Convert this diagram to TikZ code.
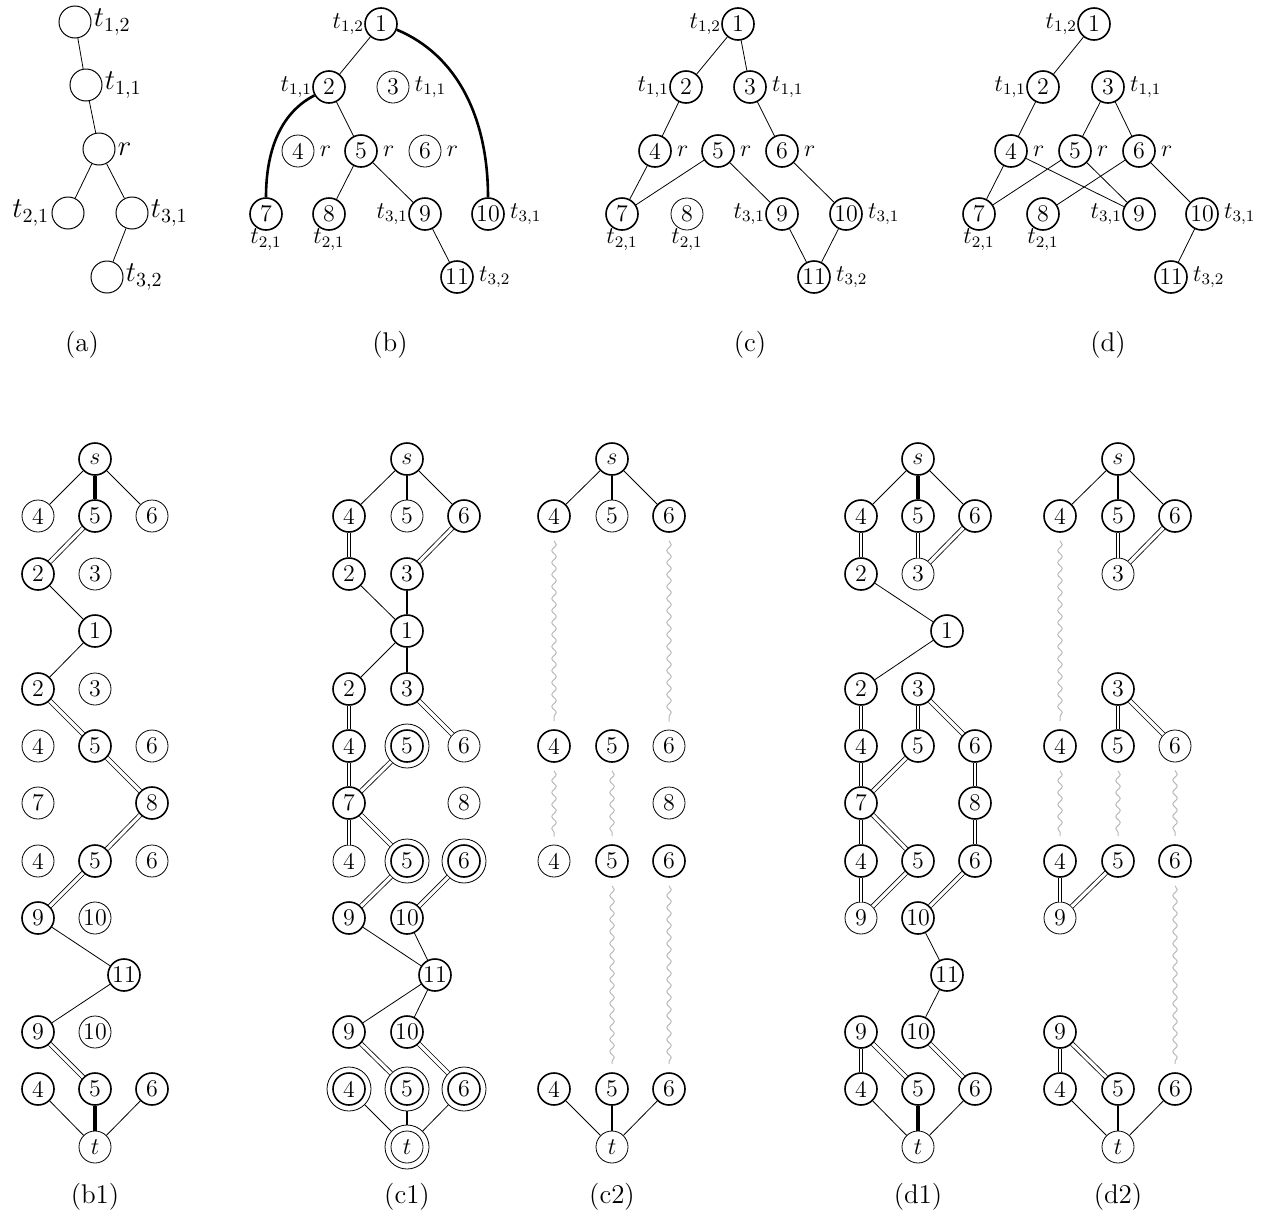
\documentclass[tikz,border=0pt]{standalone}
\usetikzlibrary{decorations.pathmorphing}
\begin{document}
\begin{tikzpicture}[x=0.5pt,y=-0.5pt,
  v/.style={circle,draw,minimum size=16pt,inner sep=0pt,line width=0.4pt,font=\fontsize{12}{14}\selectfont},
  b/.style={v,line width=0.8pt},
  dv/.style={v,minimum size=22pt,path picture={\draw[line width=0.8pt] (path picture bounding box.center) circle (8pt);}},
  dvt/.style={v,minimum size=22pt,path picture={\draw[line width=0.4pt] (path picture bounding box.center) circle (8pt);}},
  av/.style={circle,draw,minimum size=16pt,inner sep=0pt,line width=0.5pt},
  e/.style={line width=0.4pt},
  T/.style={line width=1.6pt},
  tk/.style={line width=1pt},
  cv/.style={line width=1.3pt},
  dd/.style={double,line width=0.4pt,double distance=1.6pt},
  vd/.style={double,line width=0.7pt,double distance=1pt},
  w/.style={decorate,decoration={snake,amplitude=1.1pt,segment length=6pt},draw=gray!55,line width=0.5pt},
  lr/.style={label={[font=\large,inner sep=2.5pt]right:$#1$}},
  ll/.style={label={[font=\large,inner sep=0pt]left:$#1$}},
  lb/.style={label={[font=\large,inner sep=0pt,label distance=-1pt]below:$#1$}},
  alr/.style={label={[font=\Large,inner sep=1pt]right:$#1$}},
  all/.style={label={[font=\Large,inner sep=1pt]left:$#1$}},
  capt/.style={font=\fontsize{13.5}{16}\selectfont}]
\useasboundingbox (0,0) rectangle (1268,1221);

% ---------- (a)
\node[av,alr={t_{1,2}}] (a12) at (75,22) {};
\node[av,alr={t_{1,1}}] (a11) at (86,85) {};
\node[av,alr={r}] (ar) at (99,149) {};
\node[av,all={t_{2,1}}] (a21) at (68,213) {};
\node[av,alr={t_{3,1}}] (a31) at (132,213) {};
\node[av,alr={t_{3,2}}] (a32) at (107,277) {};
\draw[e] (a12)--(a11) (a11)--(ar) (ar)--(a21) (ar)--(a31) (a31)--(a32);
\node[capt] (capa) at (82,345) {(a)};

% ---------- (b)
\node[b,ll={t_{1,2}}] (b1) at (381,24) {1};
\node[b,ll={t_{1,1}}] (b2) at (329,87) {2};
\node[v,lr={t_{1,1}}] (b3) at (393,87) {3};
\node[v,lr={r}] (b4) at (298,151) {4};
\node[b,lr={r}] (b5) at (361,151) {5};
\node[v,lr={r}] (b6) at (425,151) {6};
\node[b,lb={t_{2,1}}] (b7) at (266,214) {7};
\node[b,lb={t_{2,1}}] (b8) at (329,214) {8};
\node[b,ll={t_{3,1}}] (b9) at (425,214) {9};
\node[b,lr={t_{3,1}}] (b10) at (488,214) {10};
\node[b,lr={t_{3,2}}] (b11) at (457,277) {11};
\draw[e] (b1)--(b2) (b2)--(b5) (b5)--(b8) (b5)--(b9) (b9)--(b11);
\draw[cv] (b2.210) .. controls +(-35,18) and +(0,-45) .. (b7.north);
\draw[cv] (b1.-20) .. controls +(60,25) and +(0,-80) .. (b10.north);
\node[capt] (capb) at (390,345) {(b)};

% ---------- (c)
\node[b,ll={t_{1,2}}] (c1) at (738,24) {1};
\node[b,ll={t_{1,1}}] (c2) at (686,87) {2};
\node[b,lr={t_{1,1}}] (c3) at (750,87) {3};
\node[b,lr={r}] (c4) at (655,151) {4};
\node[b,lr={r}] (c5) at (718,151) {5};
\node[b,lr={r}] (c6) at (782,151) {6};
\node[b,lb={t_{2,1}}] (c7) at (622,214) {7};
\node[v,lb={t_{2,1}}] (c8) at (687,214) {8};
\node[b,ll={t_{3,1}}] (c9) at (782,214) {9};
\node[b,lr={t_{3,1}}] (c10) at (846,214) {10};
\node[b,lr={t_{3,2}}] (c11) at (814,277) {11};
\draw[e] (c1)--(c2) (c1)--(c3) (c2)--(c4) (c3)--(c6) (c4)--(c7) (c5)--(c7)
  (c5)--(c9) (c6)--(c10) (c9)--(c11) (c10)--(c11);
\node[capt] (capc) at (750,345) {(c)};

% ---------- (d)
\node[b,ll={t_{1,2}}] (d1) at (1094,24) {1};
\node[b,ll={t_{1,1}}] (d2) at (1043,87) {2};
\node[b,lr={t_{1,1}}] (d3) at (1108,87) {3};
\node[b,lr={r}] (d4) at (1011,151) {4};
\node[b,lr={r}] (d5) at (1075,151) {5};
\node[b,lr={r}] (d6) at (1139,151) {6};
\node[b,lb={t_{2,1}}] (d7) at (979,214) {7};
\node[b,lb={t_{2,1}}] (d8) at (1043,214) {8};
\node[b,ll={t_{3,1}}] (d9) at (1139,214) {9};
\node[b,lr={t_{3,1}}] (d10) at (1202,214) {10};
\node[b,lr={t_{3,2}}] (d11) at (1171,277) {11};
\draw[e] (d1)--(d2) (d2)--(d4) (d3)--(d5) (d3)--(d6) (d4)--(d7) (d4)--(d9)
  (d5)--(d7) (d5)--(d9) (d6)--(d8) (d6)--(d10) (d10)--(d11);
\node[capt] (capd) at (1108,345) {(d)};

% ---------- (b1)
\node[b] (Bs) at (95,459) {$s$};
\node[v] (Ba4) at (38,516) {4}; \node[b] (Ba5) at (95,516) {5}; \node[v] (Ba6) at (152,516) {6};
\node[b] (Bb2) at (38,574) {2}; \node[v] (Bb3) at (95,574) {3};
\node[b] (Bc1) at (95,631) {1};
\node[b] (Bd2) at (38,689) {2}; \node[v] (Bd3) at (95,689) {3};
\node[v] (Be4) at (38,746) {4}; \node[b] (Be5) at (95,746) {5}; \node[v] (Be6) at (152,746) {6};
\node[v] (Bf7) at (38,803) {7}; \node[b] (Bf8) at (152,803) {8};
\node[v] (Bg4) at (38,861) {4}; \node[b] (Bg5) at (95,861) {5}; \node[v] (Bg6) at (152,861) {6};
\node[b] (Bh9) at (38,918) {9}; \node[v] (Bh10) at (95,918) {10};
\node[b] (Bi11) at (124,975) {11};
\node[b] (Bj9) at (38,1032) {9}; \node[v] (Bj10) at (95,1032) {10};
\node[b] (Bk4) at (38,1089) {4}; \node[b] (Bk5) at (95,1089) {5}; \node[b] (Bk6) at (152,1089) {6};
\node[v] (Bt) at (95,1147) {$t$};
\draw[e] (Bs)--(Ba4) (Bs)--(Ba6) (Bb2)--(Bc1) (Bc1)--(Bd2) (Bh9)--(Bi11) (Bi11)--(Bj9) (Bk4)--(Bt) (Bk6)--(Bt);
\draw[T] (Bs)--(Ba5) (Bk5)--(Bt);
\draw[dd] (Ba5)--(Bb2);
\draw[dd] (Bd2)--(Be5);
\draw[dd] (Be5)--(Bf8);
\draw[dd] (Bf8)--(Bg5);
\draw[dd] (Bg5)--(Bh9);
\draw[dd] (Bj9)--(Bk5);
\node[capt] (capb1) at (95,1197) {(b1)};

% ---------- (c1)
\node[b] (Cs) at (407,459) {$s$};
\node[b] (Ca4) at (349,516) {4}; \node[v] (Ca5) at (407,516) {5}; \node[b] (Ca6) at (464,516) {6};
\node[b] (Cb2) at (349,574) {2}; \node[b] (Cb3) at (407,574) {3};
\node[b] (Cc1) at (407,631) {1};
\node[b] (Cd2) at (349,689) {2}; \node[b] (Cd3) at (407,689) {3};
\node[b] (Ce4) at (349,746) {4}; \node[dv] (Ce5) at (407,746) {5}; \node[v] (Ce6) at (464,746) {6};
\node[b] (Cf7) at (349,803) {7}; \node[v] (Cf8) at (464,803) {8};
\node[v] (Cg4) at (349,861) {4}; \node[dv] (Cg5) at (407,861) {5}; \node[dv] (Cg6) at (464,861) {6};
\node[b] (Ch9) at (349,918) {9}; \node[b] (Ch10) at (407,918) {10};
\node[b] (Ci11) at (435,975) {11};
\node[b] (Cj9) at (349,1032) {9}; \node[b] (Cj10) at (407,1032) {10};
\node[dv] (Ck4) at (349,1089) {4}; \node[dv] (Ck5) at (407,1089) {5}; \node[dv] (Ck6) at (464,1089) {6};
\node[dvt] (Ct) at (407,1147) {$t$};
\draw[e] (Cs)--(Ca4) (Cs)--(Ca6) (Cb2)--(Cc1) (Cc1)--(Cd2) (Ch9)--(Ci11) (Ch10)--(Ci11)
  (Ci11)--(Cj9) (Ci11)--(Cj10) (Ck4)--(Ct) (Ck6)--(Ct);
\draw[tk] (Cs)--(Ca5) (Cb3)--(Cc1) (Cc1)--(Cd3) (Ck5)--(Ct);
\draw[vd] (Ca4)--(Cb2);
\draw[dd] (Ca6)--(Cb3);
\draw[vd] (Cd2)--(Ce4);
\draw[dd] (Cd3)--(Ce6);
\draw[vd] (Ce4)--(Cf7);
\draw[dd] (Ce5)--(Cf7);
\draw[vd] (Cf7)--(Cg4);
\draw[dd] (Cf7)--(Cg5);
\draw[dd] (Cg5)--(Ch9);
\draw[dd] (Cg6)--(Ch10);
\draw[dd] (Cj9)--(Ck5);
\draw[dd] (Cj10)--(Ck6);
\node[capt] (capc1) at (407,1197) {(c1)};

% ---------- (c2)
\node[b] (Ds) at (612,459) {$s$};
\node[b] (Da4) at (554,516) {4}; \node[v] (Da5) at (612,516) {5}; \node[b] (Da6) at (669,516) {6};
\node[b] (De4) at (554,746) {4}; \node[b] (De5) at (612,746) {5}; \node[v] (De6) at (669,746) {6};
\node[v] (Df8) at (669,803) {8};
\node[v] (Dg4) at (554,861) {4}; \node[b] (Dg5) at (612,861) {5}; \node[b] (Dg6) at (669,861) {6};
\node[b] (Dk4) at (554,1089) {4}; \node[b] (Dk5) at (612,1089) {5}; \node[b] (Dk6) at (669,1089) {6};
\node[v] (Dt) at (612,1147) {$t$};
\draw[e] (Ds)--(Da4) (Ds)--(Da6) (Dk4)--(Dt) (Dk6)--(Dt);
\draw[tk] (Ds)--(Da5) (Dk5)--(Dt);
\draw[w] ([yshift=-4pt]Da4.south)--([yshift=4pt]De4.north);
\draw[w] ([yshift=-4pt]Da6.south)--([yshift=4pt]De6.north);
\draw[w] ([yshift=-4pt]De4.south)--([yshift=4pt]Dg4.north);
\draw[w] ([yshift=-4pt]De5.south)--([yshift=4pt]Dg5.north);
\draw[w] ([yshift=-4pt]Dg5.south)--([yshift=4pt]Dk5.north);
\draw[w] ([yshift=-4pt]Dg6.south)--([yshift=4pt]Dk6.north);
\node[capt] (capc2) at (612,1197) {(c2)};

% ---------- (d1)
\node[b] (Es) at (918,459) {$s$};
\node[b] (Ea4) at (861,516) {4}; \node[b] (Ea5) at (918,516) {5}; \node[b] (Ea6) at (975,516) {6};
\node[b] (Eb2) at (861,574) {2}; \node[v] (Eb3) at (918,574) {3};
\node[b] (Ec1) at (947,631) {1};
\node[b] (Ed2) at (861,689) {2}; \node[b] (Ed3) at (918,689) {3};
\node[b] (Ee4) at (861,746) {4}; \node[b] (Ee5) at (918,746) {5}; \node[b] (Ee6) at (975,746) {6};
\node[b] (Ef7) at (861,803) {7}; \node[b] (Ef8) at (975,803) {8};
\node[b] (Eg4) at (861,861) {4}; \node[b] (Eg5) at (918,861) {5}; \node[b] (Eg6) at (975,861) {6};
\node[v] (Eh9) at (861,918) {9}; \node[b] (Eh10) at (918,918) {10};
\node[b] (Ei11) at (947,975) {11};
\node[b] (Ej9) at (861,1032) {9}; \node[b] (Ej10) at (918,1032) {10};
\node[b] (Ek4) at (861,1089) {4}; \node[b] (Ek5) at (918,1089) {5}; \node[b] (Ek6) at (975,1089) {6};
\node[v] (Et) at (918,1147) {$t$};
\draw[e] (Es)--(Ea4) (Es)--(Ea6) (Eb2)--(Ec1) (Ec1)--(Ed2) (Eh10)--(Ei11) (Ei11)--(Ej10) (Ek4)--(Et) (Ek6)--(Et);
\draw[T] (Es)--(Ea5) (Ek5)--(Et);
\draw[vd] (Ea4)--(Eb2);
\draw[vd] (Ea5)--(Eb3);
\draw[dd] (Ea6)--(Eb3);
\draw[vd] (Ed2)--(Ee4);
\draw[vd] (Ed3)--(Ee5);
\draw[dd] (Ed3)--(Ee6);
\draw[vd] (Ee4)--(Ef7);
\draw[dd] (Ee5)--(Ef7);
\draw[vd] (Ee6)--(Ef8);
\draw[vd] (Ef7)--(Eg4);
\draw[dd] (Ef7)--(Eg5);
\draw[vd] (Ef8)--(Eg6);
\draw[vd] (Eg4)--(Eh9);
\draw[dd] (Eg5)--(Eh9);
\draw[dd] (Eg6)--(Eh10);
\draw[vd] (Ej9)--(Ek4);
\draw[dd] (Ej9)--(Ek5);
\draw[dd] (Ej10)--(Ek6);
\node[capt] (capd1) at (918,1197) {(d1)};

% ---------- (d2)
\node[b] (Fs) at (1118,459) {$s$};
\node[b] (Fa4) at (1060,516) {4}; \node[b] (Fa5) at (1118,516) {5}; \node[b] (Fa6) at (1175,516) {6};
\node[v] (Fb3) at (1118,574) {3};
\node[b] (Fd3) at (1118,689) {3};
\node[b] (Fe4) at (1060,746) {4}; \node[b] (Fe5) at (1118,746) {5}; \node[v] (Fe6) at (1175,746) {6};
\node[b] (Fg4) at (1060,861) {4}; \node[b] (Fg5) at (1118,861) {5}; \node[b] (Fg6) at (1175,861) {6};
\node[v] (Fh9) at (1060,918) {9};
\node[b] (Fj9) at (1060,1032) {9};
\node[b] (Fk4) at (1060,1089) {4}; \node[b] (Fk5) at (1118,1089) {5}; \node[b] (Fk6) at (1175,1089) {6};
\node[v] (Ft) at (1118,1147) {$t$};
\draw[e] (Fs)--(Fa4) (Fs)--(Fa6) (Fk4)--(Ft) (Fk6)--(Ft);
\draw[tk] (Fs)--(Fa5) (Fk5)--(Ft);
\draw[vd] (Fa5)--(Fb3);
\draw[dd] (Fa6)--(Fb3);
\draw[vd] (Fd3)--(Fe5);
\draw[dd] (Fd3)--(Fe6);
\draw[vd] (Fg4)--(Fh9);
\draw[dd] (Fg5)--(Fh9);
\draw[vd] (Fj9)--(Fk4);
\draw[dd] (Fj9)--(Fk5);
\draw[w] ([yshift=-4pt]Fa4.south)--([yshift=4pt]Fe4.north);
\draw[w] ([yshift=-4pt]Fe4.south)--([yshift=4pt]Fg4.north);
\draw[w] ([yshift=-4pt]Fe5.south)--([yshift=4pt]Fg5.north);
\draw[w] ([yshift=-4pt]Fe6.south)--([yshift=4pt]Fg6.north);
\draw[w] ([yshift=-4pt]Fg6.south)--([yshift=4pt]Fk6.north);
\node[capt] (capd2) at (1118,1197) {(d2)};
\end{tikzpicture}
\end{document}
